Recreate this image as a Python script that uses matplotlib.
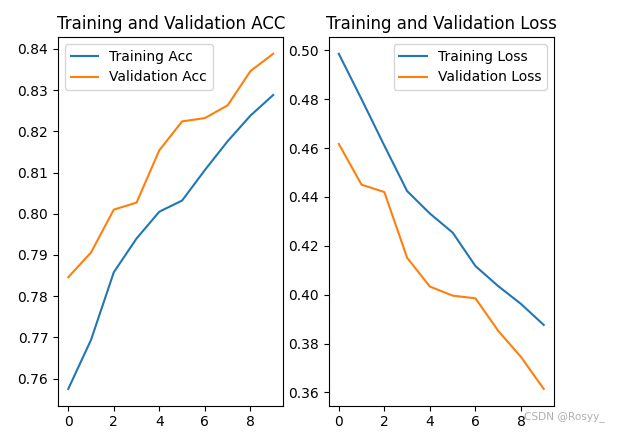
import matplotlib.pyplot as plt

epochs = list(range(10))
train_acc = [0.7575, 0.7694, 0.7858, 0.7940, 0.8005, 0.8032, 0.8106, 0.8176, 0.8238, 0.8288]
val_acc = [0.7846, 0.7906, 0.8010, 0.8027, 0.8154, 0.8224, 0.8232, 0.8263, 0.8346, 0.8388]
train_loss = [0.4986, 0.4800, 0.4610, 0.4424, 0.4332, 0.4254, 0.4117, 0.4035, 0.3962, 0.3876]
val_loss = [0.4617, 0.4450, 0.4420, 0.4151, 0.4033, 0.3996, 0.3985, 0.3852, 0.3745, 0.3614]

fig = plt.figure(figsize=(6.19, 4.34), dpi=100)
fig.subplots_adjust(left=0.0937, right=0.895, top=0.9147, bottom=0.0652, wspace=0.2)

plt.subplot(1, 2, 1)
plt.plot(epochs, train_acc, label='Training Acc')
plt.plot(epochs, val_acc, label='Validation Acc')
plt.legend(loc='upper left')
plt.title('Training and Validation ACC')

plt.subplot(1, 2, 2)
plt.plot(epochs, train_loss, label='Training Loss')
plt.plot(epochs, val_loss, label='Validation Loss')
plt.legend(loc='upper right')
plt.title('Training and Validation Loss')

# watermark (overlaps the last tick label, as in the source image)
fig.text(0.847, 0.028, 'CSDN @Rosyy_', fontsize=7.6, color='#b0b0b0', ha='left', va='bottom')

plt.savefig('out.png', dpi=100)
